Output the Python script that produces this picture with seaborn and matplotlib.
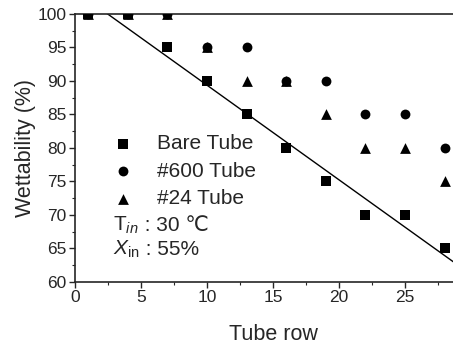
import numpy as np
import pandas as pd
import matplotlib
matplotlib.use('Agg')
import matplotlib.pyplot as plt
import seaborn as sns

sns.set_style('ticks')
plt.rcParams['font.family'] = ['Liberation Sans', 'DejaVu Sans']
plt.rcParams['mathtext.fontset'] = 'custom'
plt.rcParams['mathtext.rm'] = 'Liberation Sans'
plt.rcParams['mathtext.it'] = 'Liberation Sans:italic'

# data
tube_row = [1, 4, 7, 10, 13, 16, 19, 22, 25, 28]
bare_tube = [100, 100, 95, 90, 85, 80, 75, 70, 70, 65]
tube_600 = [100, 100, 100, 95, 95, 90, 90, 85, 85, 80]
tube_24 = [100, 100, 100, 95, 90, 90, 85, 80, 80, 75]

df = pd.DataFrame({'row': tube_row, 'bare': bare_tube,
                   '600': tube_600, '24': tube_24})

fig = plt.figure(figsize=(4.53, 3.45), dpi=100)
W, H = 453, 345
ax = fig.add_axes([75 / W, (H - 281.7) / H, 396 / W, 267.7 / H])
ax.set_xlim(0, 30)
ax.set_ylim(60, 100)

sns.scatterplot(data=df, x='row', y='bare', marker='s', s=42, color='black',
                edgecolor='black', linewidth=0, label='Bare Tube', ax=ax, zorder=3)
sns.scatterplot(data=df, x='row', y='600', marker='o', s=50, color='black',
                edgecolor='black', linewidth=0, label='#600 Tube', ax=ax, zorder=3)
sns.scatterplot(data=df, x='row', y='24', marker='^', s=60, color='black',
                edgecolor='black', linewidth=0, label='#24 Tube', ax=ax, zorder=3)
# linear fit of the bare tube
sns.regplot(data=df, x='row', y='bare', scatter=False, ci=None, truncate=False,
            color='black', line_kws={'lw': 1.0}, ax=ax)

ax.set_xticks(np.arange(0, 30, 5))
ax.set_yticks(np.arange(60, 101, 5))
ax.set_xticks(np.arange(0, 30, 2.5), minor=True)
ax.set_yticks(np.arange(60, 101, 2.5), minor=True)
ax.tick_params(which='major', direction='out', length=4, width=1, labelsize=12.5, pad=2)
ax.tick_params(which='minor', direction='out', length=2, width=0.8)
for sp in ax.spines.values():
    sp.set_linewidth(1.2)
ax.set_xlabel('Tube row', fontsize=15.5, labelpad=14)
ax.set_ylabel('Wettability (%)', fontsize=15.5, labelpad=1)

leg = ax.legend(loc='upper left', bbox_to_anchor=(0.095, 0.55), frameon=False,
                fontsize=15, handlelength=1.0, handletextpad=1.13,
                labelspacing=0.4, borderpad=0, borderaxespad=0)

# condition texts: symbol part in mathtext, value part as plain text after it
t1 = ax.text(0.096, 0.19, r'$\mathrm{T}_{\mathit{in}}$', transform=ax.transAxes,
             fontsize=15, va='baseline', ha='left')
t2 = ax.text(0.096, 0.10, r'$\mathit{X}_{\mathrm{in}}$', transform=ax.transAxes,
             fontsize=15, va='baseline', ha='left')
fig.canvas.draw()
r = fig.canvas.get_renderer()
for t, s in [(t1, ' : 30 ℃'), (t2, ' : 55%')]:
    x1 = t.get_window_extent(r).x1
    xa = ax.transAxes.inverted().transform((x1, 0))[0]
    ax.text(xa, t.get_position()[1], s, transform=ax.transAxes,
            fontsize=15, va='baseline', ha='left')

fig.savefig('out.png', dpi=100)
